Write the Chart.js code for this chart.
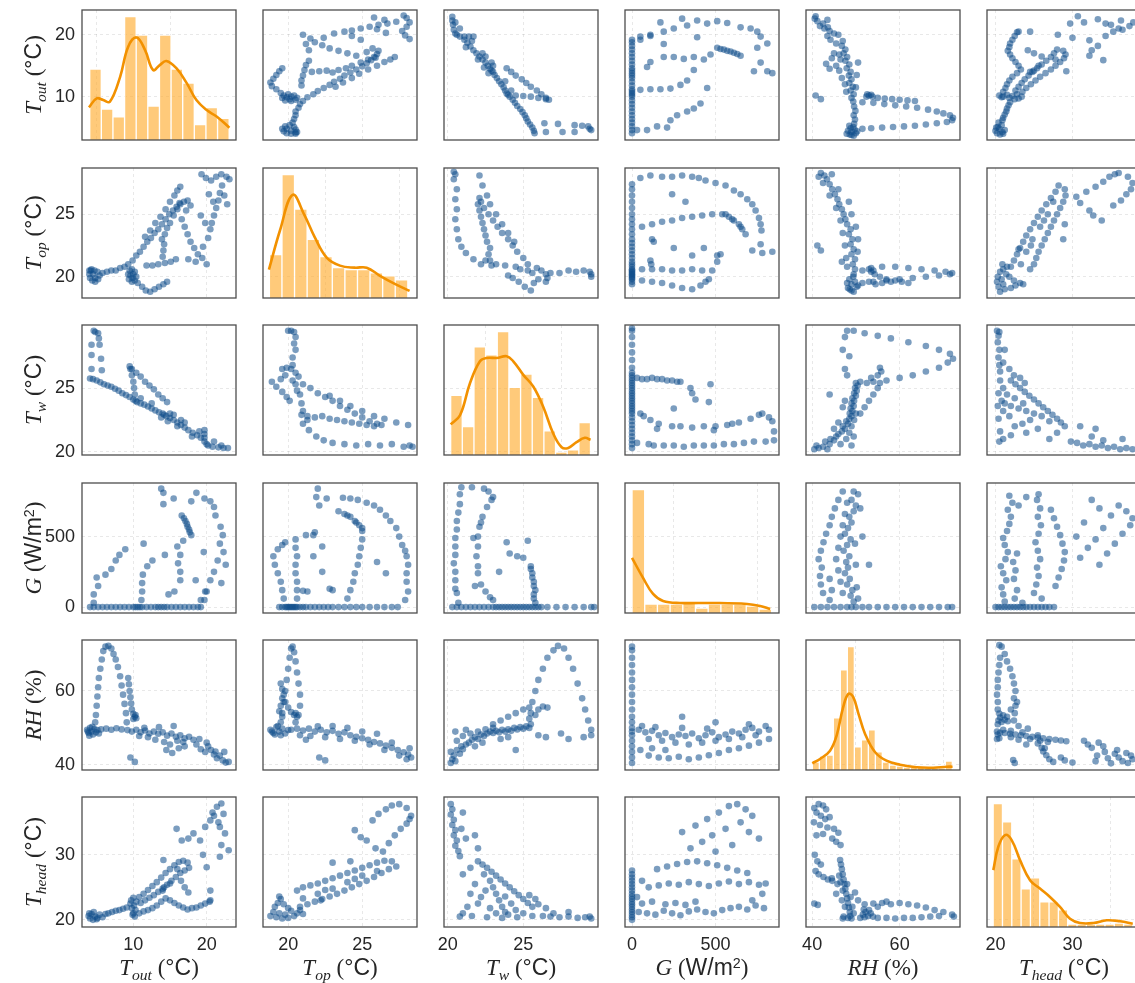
<!DOCTYPE html>
<html><head><meta charset="utf-8">
<script src="https://cdn.jsdelivr.net/npm/chart.js@4.4.1/dist/chart.umd.min.js"></script>
<style>
html,body{margin:0;padding:0;background:#fff;overflow:hidden;width:1135px;height:983px;}
#wrap{position:relative;width:1135px;height:983px;overflow:hidden;}
canvas{position:absolute;}
.lab{position:absolute;font-family:'Liberation Serif','DejaVu Serif',serif;font-size:23px;color:#262626;white-space:nowrap;line-height:1;}
.lab i{font-style:italic;}
.lab sub{font-size:0.68em;vertical-align:baseline;position:relative;top:0.32em;font-style:italic;}
.lab .s{font-family:'Liberation Sans','DejaVu Sans',sans-serif;font-style:normal;}
.lab sup{font-size:0.62em;vertical-align:baseline;position:relative;top:-0.5em;font-family:'Liberation Sans',sans-serif;}
.bot{transform:translate(-50%,-50%);}
.left{transform:translate(-50%,-50%) rotate(-90deg);}
</style></head>
<body><div id="wrap"></div>
<script>
// ---------------- variables / axes ----------------
const VAR_KEYS = ['Tout','Top','Tw','G','RH','Thead'];
const AXIS_MIN = [3.0, 18.3, 19.75, -42, 38.6, 18.9];
const AXIS_MAX = [24.0, 28.7, 29.95, 880, 73.8, 38.9];
const TICKS_Tout = [10, 20];
const TICKS_Top = [20, 25];
const TICKS_Tw = [20, 25];
const TICKS_G = [0, 500];
const TICKS_RH = [40, 60];
const TICKS_Thead = [20, 30];
const AXIS_TITLES = [
  '<i>T</i><sub>out</sub> (<span class="s">&#176;C</span>)',
  '<i>T</i><sub>op</sub> (<span class="s">&#176;C</span>)',
  '<i>T</i><sub>w</sub> (<span class="s">&#176;C</span>)',
  '<i>G</i> (<span class="s">W/m<sup>2</sup></span>)',
  '<i>RH</i> (%)',
  '<i>T</i><sub>head</sub> (<span class="s">&#176;C</span>)'
];

// ---------------- histograms (diagonal) ----------------
const hist_Tout_start = 4.05, hist_Tout_width = 1.585;
const hist_Tout_counts = [46,20,15,80,68,22,68,46,37,10,21,14];
const kde_Tout_x = [3.95,5.0,5.9,6.8,8.2,9.3,10.45,11.6,12.7,13.6,14.5,15.9,17.3,18.6,20.0,21.4,23.1];
const kde_Tout_y = [21.2,27.0,25.9,24.8,41.0,60.5,66.5,58.3,45.4,48.6,51.2,46.4,36.7,25.9,19.4,15.1,8.0];

const hist_Top_start = 18.73, hist_Top_width = 0.85;
const hist_Top_counts = [43,122,88,58,41,30,28,28,25,22,18];
const kde_Top_x = [18.7,19.45,20.3,21.1,21.8,22.6,23.5,24.5,25.3,26.2,27.2,28.2];
const kde_Top_y = [28,67,102,82,60,40,32,30,30,22,14,7];

const hist_Tw_start = 20.19, hist_Tw_width = 0.772;
const hist_Tw_counts = [59,28,107,99,122,67,80,57,24,3,5,32];
const kde_Tw_x = [20.19,20.81,21.47,22.13,22.58,23.24,23.9,24.34,25.0,25.66,26.32,26.99,27.54,27.98,28.53,29.08,29.46];
const kde_Tw_y = [30.3,39.3,71,92.7,96,96,97.7,92.7,79.3,67.7,47.7,21,7.7,7,12.7,17,15];

const hist_G_start = 0, hist_G_width = 76;
const hist_G_counts = [123,9,9,9,10,5,9,9,9,7,4];
const kde_G_x = [0,66,126,186,287,485,689,767,827];
const kde_G_y = [55,35,19,12,10,10,9,7,4];

const hist_RH_start = 40.05, hist_RH_width = 1.6;
const hist_RH_counts = [8,14,15,52,100,123,23,30,40,18,8,5,4,3,3,3,2,2,2,9];
const kde_RH_x = [40.04,41.8,44.1,45.6,47.1,48.3,49.4,50.6,52.1,54.4,57.0,60.1,63.9,67.7,70.8,72.1];
const kde_RH_y = [6.7,11,19.3,34.3,62.7,76,72.7,56,36,17.7,9.3,5.3,2.7,2.3,3.3,3.3];

const hist_Thead_start = 19.7, hist_Thead_width = 1.21;
const hist_Thead_counts = [123,105,68,38,49,25,25,17,3,3,3,3,3,4,3];
const kde_Thead_x = [19.72,20.37,21.24,22.1,23.19,24.49,25.78,27.08,28.38,29.68,30.98,32.7,34.45,36.18,37.83];
const kde_Thead_y = [56.7,80,91.7,86.7,66.7,46.7,38.3,30,20,8.3,4,4,6.7,5.7,3.3];

// ---------------- pairwise samples [first var, second var] ----------------
const pair_Tout_Top = [
[4.2,20.5],[4.0,20.2],[4.1,19.9],[4.4,19.7],[4.8,19.6],[5.2,19.8],[5.4,20.1],[5.1,20.4],[4.7,20.5],[4.5,20.2],[4.8,19.9],[4.3,20.6],[4.0,20.5],
[5.8,20.3],[6.4,20.4],[7.0,20.5],[7.6,20.5],[8.2,20.7],[8.8,20.8],[9.3,21.0],[9.9,21.3],[10.4,21.7],[10.9,22.0],[11.4,22.4],[11.9,22.8],[12.4,23.1],[12.9,23.5],[13.4,23.8],[13.9,24.2],[14.4,24.6],[14.9,25.0],[15.4,25.3],[15.9,25.6],[16.4,25.8],[16.9,26.0],[17.4,26.1],[17.8,25.7],[17.2,25.3],
[9.5,20.5],[9.3,20.2],[9.4,19.8],[9.8,19.6],[10.2,19.7],[10.4,20.0],[10.2,20.4],[9.8,20.6],[9.6,20.1],[10.0,20.2],[9.9,19.9],
[10.6,19.5],[11.2,19.2],[11.7,18.9],[12.3,18.8],[12.9,19.0],[13.5,19.2],[14.1,19.4],[14.6,19.6],
[11.8,20.9],[12.6,20.9],[13.4,21.0],[14.3,21.1],[15.1,21.2],[15.8,21.4],
[14.0,21.6],[14.1,22.1],[14.2,22.6],[13.9,23.0],[14.3,23.4],[14.6,23.9],[15.0,24.3],[15.5,24.9],[16.0,25.4],[16.3,25.9],
[11.6,23.2],[12.3,23.7],[13.0,24.3],[13.7,24.8],[14.4,25.4],[15.0,26.0],[15.6,26.5],[16.0,26.9],[16.4,27.2],
[16.6,24.6],[17.0,24.0],[17.4,23.4],[17.8,22.8],[18.3,22.3],[18.8,21.8],[19.4,21.5],[20.0,21.0],[17.5,21.4],[18.5,21.2],[19.5,22.4],[20.2,23.1],[20.5,23.8],[19.8,24.3],[19.2,24.9],
[19.3,28.2],[19.9,27.9],[20.6,27.7],[21.3,28.0],[22.0,28.2],[22.7,28.0],[23.1,27.8],[22.1,27.3],[21.8,26.7],[21.6,26.1],[21.3,25.5],[21.0,24.9],[20.7,24.3],[22.4,26.5],[22.8,25.8],[20.3,26.6],[20.9,26.0]
];
const pair_Tout_Tw = [
[22.9,20.3],[22.3,20.3],[21.6,20.35],[20.8,20.4],[20.2,20.5],[19.7,20.8],[19.2,21.1],[18.7,21.3],[18.1,21.5],[17.5,21.7],[17.0,21.9],[16.5,22.1],[16.0,22.3],[15.5,22.5],[15.0,22.65],[14.5,22.8],[14.2,22.9],[14.0,23.0],[13.5,23.1],[13.0,23.25],[12.5,23.4],[12.0,23.55],[11.5,23.7],[11.0,23.8],[10.5,23.9],[10.0,24.1],[9.5,24.3],[9.0,24.45],[8.5,24.6],[8.0,24.8],[7.5,24.95],[7.0,25.1],[6.5,25.2],[6.0,25.3],[5.5,25.45],[5.0,25.6],[4.5,25.7],[4.1,25.75],
[19.7,21.1],[19.7,21.4],[19.7,21.7],
[5.7,26.4],[5.6,27.3],[5.4,28.4],[5.3,28.9],[5.2,29.3],[4.6,29.5],[4.8,29.4],[4.3,26.5],[4.3,27.6],[4.3,28.4],
[10.3,24.0],[10.2,24.5],[10.1,25.0],[10.0,25.5],[9.8,26.0],[9.6,26.5],
[14.6,23.9],[14.0,24.2],[13.4,24.5],[12.8,24.9],[12.2,25.2],[11.6,25.5],[11.0,25.9],[10.4,26.2],[9.8,26.5],[9.5,26.7],
[21.0,20.8],[19.0,21.6],[17.0,22.3],[16.0,22.0],[15.0,23.0],[13.8,22.7],[12.5,23.8],[11.0,24.2],[14.7,22.4],[18.0,21.2],[20.0,20.6],[22.0,20.5],[16.5,22.5],[15.5,22.9]
];
const pair_Tout_G = [
[4.1,0],[4.6,0],[5.2,0],[5.8,0],[6.4,0],[7.0,0],[7.6,0],[8.2,0],[8.8,0],[9.4,0],[10.0,0],[10.3,0],[10.6,0],[10.9,0],[11.2,0],[11.8,0],[12.4,0],[13.0,0],[13.4,0],[13.8,0],[14.2,0],[14.6,0],[15.2,0],[15.8,0],[16.4,0],[17.0,0],[17.6,0],[18.2,0],[18.8,0],[19.2,0],
[19.7,50],[20.0,110],[20.5,190],[21.0,250],[21.5,330],[22.3,390],[21.8,450],[22.2,510],[21.9,570],[21.2,650],[21.0,710],[20.5,750],[19.7,770],[18.6,810],[17.9,750],[15.5,770],[14.1,730],[14.1,810],[13.8,840],
[11.1,50],[11.2,110],[11.2,170],[11.3,230],[11.9,290],[12.6,330],[14.3,370],[11.4,450],
[14.8,90],[15.6,110],[16.4,190],[16.4,250],[16.1,310],[16.4,370],[16.0,430],[16.8,470],
[17.9,510],[17.7,530],[17.6,550],[17.4,570],[17.3,590],[17.1,610],[16.9,630],[16.6,650],
[4.6,30],[4.6,90],[5.2,150],[5.0,210],[6.2,230],[7.0,270],[7.6,330],[8.1,370],[8.9,410],
[19.2,50],[19.8,110],[18.5,190],[19.6,390],[22.6,300],[22.0,170]
];
const pair_Tout_RH = [
[3.7,49.5],[3.9,48.6],[4.1,50.0],[4.3,49.0],[4.5,48.2],[4.7,49.7],[4.9,48.8],[5.1,49.4],[4.0,47.9],[4.4,50.3],[5.3,48.5],[3.8,49.0],
[4.8,51.5],[4.9,53.5],[5.0,56.0],[5.1,58.5],[5.2,61.0],[5.3,63.5],[5.5,66.0],[5.7,68.5],[5.9,70.8],[6.2,72.0],[6.6,72.2],[7.0,71.5],[7.3,70.0],[7.6,68.5],[7.9,66.5],[8.2,64.0],[8.4,61.5],[8.6,59.0],[8.8,56.5],[9.0,54.0],[9.1,51.5],
[9.3,63.5],[9.4,61.8],[9.5,60.0],[9.6,58.3],[9.7,56.6],[9.8,55.0],[10.0,53.8],[10.2,53.0],[10.4,52.6],[10.0,52.4],[10.3,53.5],
[5.6,49.6],[6.3,49.8],[7.0,49.5],[7.7,49.9],[8.4,49.6],[9.2,49.4],[9.8,49.0],[10.4,49.5],[11.0,48.8],[11.6,49.3],[12.2,48.5],[12.8,49.0],[13.4,48.4],[14.0,48.8],[14.6,47.9],[15.2,48.5],[15.8,47.6],[16.4,48.0],[17.0,47.2],[17.6,47.6],[18.2,46.8],[12.0,47.5],[13.0,46.8],[14.2,46.2],[15.0,45.5],[16.0,46.5],[17.0,45.0],[11.5,50.0],[13.5,50.2],[15.5,50.5],[10.8,47.8],[16.8,46.2],
[18.6,45.5],[19.2,44.2],[19.8,43.5],[20.2,45.0],[20.6,44.0],[21.0,42.8],[21.4,41.8],[21.8,42.5],[22.2,41.2],[22.6,40.6],[23.0,40.8],[20.0,46.0],[21.2,43.6],[19.0,47.0],[22.4,43.5],
[9.6,42.0],[10.2,40.8],[14.5,44.0],[15.3,43.2],[16.2,44.5]
];
const pair_Tout_Thead = [
[3.9,20.6],[4.1,20.2],[4.3,20.9],[4.5,20.0],[4.8,20.5],[5.1,20.3],[5.4,20.8],[5.8,20.4],[6.2,20.9],[4.0,21.0],[4.6,21.2],[5.0,20.1],
[6.6,21.0],[7.1,21.2],[7.6,21.4],[8.1,21.5],[8.6,21.7],[9.1,21.9],
[9.6,22.5],[9.8,21.8],[10.0,21.0],[10.2,20.5],[9.7,23.0],[10.1,22.2],[10.3,21.5],[9.9,20.8],[10.4,22.8],[10.0,23.4],
[10.8,23.5],[11.4,24.0],[12.0,24.6],[12.6,25.2],[13.2,25.8],[13.8,26.5],[14.4,27.2],[15.0,27.8],[15.6,28.4],[16.2,28.9],[16.8,29.1],[17.4,28.8],
[11.0,22.6],[11.6,23.0],[12.2,23.4],[12.8,23.8],[13.4,24.3],[14.0,24.8],[14.6,25.4],[15.2,26.0],[15.8,26.6],[16.4,27.2],[17.0,27.6],[17.6,28.0],
[14.2,25.0],[14.0,24.5],[15.0,25.6],[16.0,27.8],[16.5,26.0],[17.0,25.0],[17.5,24.2],[14.1,29.2],
[10.8,21.0],[11.4,21.3],[12.0,21.5],[12.6,21.8],[13.2,22.2],[13.8,22.8],[14.4,23.3],[15.0,23.0],[15.6,22.6],[16.2,22.2],[16.8,21.9],[17.4,21.6],[18.0,21.8],[18.6,21.9],[19.2,22.2],[19.8,22.5],[20.4,22.8],
[15.9,34.0],[16.6,32.2],[18.2,33.3],[19.1,32.2],[19.8,34.3],[20.5,35.3],[21.0,36.0],[21.4,37.4],[22.0,37.9],[22.3,36.3],[21.8,34.3],[22.5,33.3],[23.0,30.7],[21.8,29.7],[20.0,28.1],[20.5,24.5],[20.5,23.0],[20.8,36.5],[21.6,35.0],[19.5,30.0],[22.0,31.5],[17.5,32.5]
];
const pair_Top_Tw = [
[20.0,29.5],[20.2,29.5],[20.4,29.4],[20.5,29.0],[20.4,28.5],[20.5,28.0],[20.3,27.4],[20.3,26.8],
[19.6,26.5],[19.9,26.6],[20.2,26.5],[20.5,26.2],[20.7,25.9],[19.8,26.0],[19.5,25.7],[18.9,25.5],[19.2,25.1],[19.6,24.7],[19.9,24.3],[20.1,24.0],[20.3,25.6],[20.5,25.3],[20.6,24.8],
[21.0,25.3],[21.5,25.0],[22.0,24.6],[22.5,24.3],[23.0,24.0],[23.5,23.6],[24.0,23.3],[24.5,23.0],[25.0,22.7],[25.5,22.4],[26.0,22.2],
[20.9,22.9],[21.3,22.8],[21.8,22.7],[22.3,22.8],[22.8,22.6],[23.3,22.5],[23.8,22.4],[24.3,22.3],[24.8,22.2],[25.3,22.1],[25.8,22.0],[26.3,22.1],
[21.0,22.2],[21.4,21.7],[21.9,21.2],[22.4,20.9],[23.0,20.7],[23.8,20.6],[24.6,20.5],[25.4,20.6],[26.2,20.5],[27.0,20.6],[27.8,20.4],[28.2,20.5],[28.4,20.4],
[22.8,24.4],[23.5,24.0],[24.2,23.6],[25.0,23.2],[25.8,22.8],[26.5,22.6],[27.3,22.3],[28.1,22.1],
[20.8,24.5],[20.9,23.8],[21.0,23.2],[21.3,22.5]
];
const pair_Top_G = [
[19.4,0],[19.6,0],[19.8,0],[20.0,0],[20.2,0],[20.4,0],[20.6,0],[20.8,0],[21.0,0],[21.2,0],[21.5,0],[21.8,0],[22.1,0],[22.4,0],[22.7,0],[23.0,0],[23.4,0],[23.8,0],[24.2,0],[24.6,0],[25.0,0],[25.5,0],[26.0,0],[26.5,0],[27.0,0],[27.4,0],[20.1,0],[20.3,0],[19.9,0],[20.5,0],
[27.9,50],[28.1,110],[28.0,180],[28.0,240],[28.1,300],[28.0,360],[27.9,400],[27.7,440],[27.5,500],[27.3,560],[26.9,610],[26.6,650],[26.2,690],[25.8,720],[25.3,740],[24.7,760],[24.2,770],[23.7,775],
[24.0,60],[24.2,120],[24.4,180],[24.5,240],[24.7,300],[24.8,360],[24.9,420],[25.0,480],[25.0,540],[24.8,580],[24.5,610],[24.2,640],[23.8,660],[23.4,680],[25.0,560],[24.6,600],[24.0,650],
[20.6,60],[20.6,120],[20.6,180],[20.5,240],[20.5,300],[20.6,360],[20.5,420],[20.5,480],
[19.7,60],[19.6,120],[19.5,180],[19.3,240],[19.1,300],[19.0,360],[19.3,410],[19.6,440],[19.8,460],
[22.3,250],[22.3,430],[21.3,110],[21.0,115],[21.7,360],[21.7,510],[21.8,530],[22.1,720],[21.9,780],[22.0,840],[22.6,770],[26.6,240],[26.0,320],[21.2,510],[23.0,120],[22.8,130]
];
const pair_Top_RH = [
[18.8,49.5],[19.0,48.6],[19.2,50.2],[19.4,49.0],[19.1,48.2],[19.6,49.8],[19.3,50.5],[18.9,49.0],[19.8,48.5],[20.0,49.4],[19.5,48.0],
[19.5,51.5],[19.6,54.0],[19.7,57.0],[19.8,60.0],[19.9,63.0],[20.0,66.0],[20.1,69.0],[20.2,71.5],[20.3,72.0],[20.4,70.5],[20.5,68.0],[20.6,65.0],[20.7,62.0],[20.8,59.0],[20.8,56.0],[20.7,53.5],[20.5,51.5],
[19.5,62.0],[19.6,60.5],[19.7,59.0],[19.8,57.0],[20.0,55.5],[20.2,54.3],[20.4,53.5],[20.6,53.0],[20.5,54.0],[19.6,58.0],[19.5,56.0],[19.4,54.5],[19.6,53.0],
[20.2,49.5],[20.6,49.8],[21.0,49.3],[21.4,49.8],[21.8,49.0],[22.2,49.5],[22.6,48.8],[23.0,49.2],[23.4,48.4],[23.8,48.8],[24.2,48.0],[24.6,47.6],[25.0,47.2],[25.4,46.8],[25.8,46.2],[26.2,45.8],[26.6,45.2],[27.0,44.6],[27.4,44.0],[27.8,43.4],[28.1,42.8],[28.3,42.0],[21.5,47.8],[22.5,47.5],[23.5,47.0],[24.5,46.5],[25.5,45.5],[26.5,44.0],[27.5,42.5],[28.0,41.5],[22.0,50.4],[23.0,50.5],[24.0,50.0],[25.0,49.0],[26.0,48.4],[20.8,48.0],[21.2,46.8],[27.0,46.0],[28.2,44.5],
[22.5,41.2],[22.1,42.0]
];
const pair_Top_Thead = [
[18.8,20.6],[19.0,21.2],[19.2,20.4],[19.4,21.0],[19.6,20.2],[19.8,20.8],[20.0,20.3],[20.2,21.4],[20.4,20.6],[20.6,21.0],[19.1,22.0],[19.3,22.6],[19.5,23.2],[19.4,23.6],[19.7,22.4],[20.0,21.8],[20.8,21.5],[21.0,20.9],
[20.6,24.5],[21.0,25.0],[21.5,25.3],[22.0,25.6],[22.5,26.0],[23.0,26.4],[23.5,26.8],[24.0,27.2],[24.5,27.6],[25.0,28.0],[25.5,28.4],[26.0,28.8],[26.5,29.1],[27.0,29.0],
[20.8,22.0],[21.3,22.4],[21.8,22.8],[22.3,23.2],[22.8,23.6],[23.3,24.0],[23.8,24.5],[24.3,25.0],[24.8,25.5],[25.3,26.0],[25.8,26.6],[26.3,27.2],[26.8,27.8],[27.3,28.2],
[21.0,23.3],[22.0,24.0],[23.0,24.8],[24.0,25.8],[25.0,26.8],[26.0,27.5],[22.5,24.6],[24.5,26.3],
[24.5,33.8],[24.9,32.7],[25.3,32.2],[25.7,35.3],[26.1,36.3],[26.6,37.0],[27.0,37.6],[27.5,37.8],[28.0,37.2],[28.3,36.0],[28.0,34.8],[27.6,34.0],[27.2,33.0],[26.8,31.8],[26.4,30.5],[28.2,35.5],[25.9,31.0],[24.2,29.0],[23.0,28.8],[22.2,23.0]
];
const pair_Tw_G = [
[20.3,0],[20.6,0],[20.9,0],[21.2,0],[21.5,0],[21.8,0],[22.1,0],[22.4,0],[22.7,0],[23.0,0],[23.2,0],[23.4,0],[23.6,0],[23.8,0],[24.0,0],[24.2,0],[24.4,0],[24.6,0],[24.8,0],[25.0,0],[25.2,0],[25.4,0],[25.6,0],[25.8,0],[26.0,0],[26.2,0],[26.6,0],[27.2,0],[27.8,0],[28.4,0],[29.0,0],[29.5,0],[29.7,0],
[25.8,30],[25.7,60],[25.7,90],[25.8,120],[25.7,150],[25.7,180],[25.6,210],[25.6,240],[25.5,270],[25.5,290],[25.0,350],[24.1,380],[24.6,360],[23.9,460],[25.3,470],
[23.4,250],
[23.0,50],[22.8,70],[22.5,110],[22.2,160],[22.0,240],[22.0,290],[21.9,360],[22.0,430],[22.0,500],[22.1,570],[22.3,640],[22.6,710],[23.0,780],[22.7,820],[22.4,840],[21.6,850],[22.9,760],[22.2,600],
[20.5,130],[20.5,190],[20.5,250],[20.4,310],[20.5,370],[20.5,430],[20.5,490],[20.6,550],[20.6,610],[20.7,670],[20.8,730],[20.8,800],[20.9,850],
[20.7,30],[20.6,100],[21.8,150],[21.7,490]
];
const pair_Tw_RH = [
[20.2,40.5],[20.3,41.5],[20.4,42.5],[20.2,43.5],[20.5,41.0],[20.6,44.0],[20.8,43.0],[20.9,45.0],[21.0,44.2],[21.2,45.5],[21.4,46.0],[21.6,46.8],[21.8,47.5],[22.0,47.0],[22.2,48.2],[22.4,47.8],[22.6,48.5],[22.8,49.0],[23.0,48.6],[23.2,49.2],[23.4,48.8],[23.6,49.5],[23.8,49.0],[24.0,49.6],[24.2,49.2],[24.4,50.0],[24.6,49.6],[24.8,50.2],[25.0,49.8],[25.2,50.4],[21.0,47.8],[21.5,48.5],[22.0,49.0],[22.5,49.6],[23.0,50.0],[23.5,47.0],[24.0,47.5],[22.3,46.0],[21.8,45.0],[20.6,46.5],
[23.0,51.0],[23.5,52.0],[24.0,53.0],[24.5,54.0],[25.0,55.0],[25.4,55.5],[25.5,54.0],[25.4,52.5],[25.5,51.0],[25.4,50.0],[25.8,53.5],[26.0,55.0],[26.3,55.8],[26.6,55.5],
[25.6,57.0],[25.8,60.0],[26.0,63.0],[26.3,66.0],[26.6,69.0],[27.0,71.0],[27.3,72.2],[27.7,71.5],[28.0,69.0],[28.3,66.0],[28.6,62.0],[28.9,58.0],[29.1,55.0],[29.3,52.0],[29.5,49.5],[29.5,48.0],
[26.0,48.0],[26.5,47.5],[27.5,48.5],[28.0,47.0],[29.0,47.5],[20.5,49.0],[21.2,49.5],[24.5,44.0]
];
const pair_Tw_Thead = [
[20.2,37.8],[20.3,37.0],[20.2,36.2],[20.4,35.4],[20.3,34.6],[20.5,33.8],[20.4,33.0],[20.6,32.2],[20.5,31.4],[20.7,30.6],[20.8,29.8],[21.0,36.5],[20.9,34.0],[21.2,32.5],
[22.0,29.0],[22.3,28.5],[22.6,28.0],[22.9,27.4],[23.2,26.8],[23.5,26.2],[23.8,25.6],[24.1,25.0],[24.4,24.4],[24.7,23.8],[25.0,23.2],[25.3,22.6],[25.6,22.0],[22.4,27.0],[22.8,26.0],[23.0,25.0],[23.2,24.0],[23.4,23.0],[23.6,22.0],[23.8,21.2],[22.5,24.5],[22.2,23.5],[22.0,22.5],[22.8,21.8],[23.2,21.0],[24.0,20.8],[24.5,21.5],[25.0,21.0],[21.8,25.5],[21.5,24.0],[21.3,22.0],[21.0,21.0],[20.8,20.5],[21.6,20.6],[22.6,20.4],[23.6,20.3],[24.6,20.4],[25.6,20.6],[24.2,22.5],[23.8,23.6],[25.4,23.8],[25.8,23.2],[26.0,22.4],
[26.3,20.6],[26.8,20.5],[27.4,20.4],[28.0,20.5],[28.6,20.3],[29.1,20.4],[29.4,20.5],[29.5,20.2],[27.0,21.0],[28.0,21.2],[26.5,21.8],
[21.5,28.0],[21.0,27.0],[22.0,31.0],[21.8,33.0]
];
const pair_G_RH = [
[0,40.5],[0,42],[0,43.5],[0,45],[0,46.5],[0,48],[0,49],[0,50],[0,51.5],[0,53],[0,55],[0,57],[0,59],[0,61],[0,63],[0,65],[0,67],[0,69],[0,71],[0,72],
[40,49.5],[80,48.8],[120,49.2],[160,48.0],[200,48.6],[240,47.5],[280,48.2],[320,47.8],[360,48.5],[400,47.2],[440,48.0],[480,48.8],[520,47.5],[560,48.2],[600,49.0],[640,48.5],[680,49.5],[720,50.0],[760,49.0],[800,50.5],[100,47.0],[180,46.5],[260,46.0],[340,45.5],[420,46.0],[500,46.5],[580,47.0],[660,47.5],[740,48.0],[60,50.5],[140,50.2],[300,50.0],[450,49.8],
[100,42.5],[160,42.0],[220,41.8],[280,42.2],[340,41.5],[400,42.0],[460,42.6],[520,43.2],[580,44.0],[640,44.5],[700,45.2],[760,46.0],[820,47.0],[50,44.0],[120,44.5],[200,44.0],
[300,53.0],[500,51.5],[700,51.0],[820,49.5]
];
const pair_G_Thead = [
[0,20.0],[0,20.4],[0,20.8],[0,21.2],[0,21.6],[0,22.0],[0,22.4],[0,22.8],[0,23.2],[0,23.6],[0,24.0],[0,24.5],[0,25.0],[0,25.5],[0,26.0],[0,26.5],[0,27.0],[0,27.6],
[40,21.2],[90,21.0],[140,20.8],[190,21.4],[240,21.0],[290,20.7],[340,21.3],[390,21.6],[440,21.2],[490,21.0],[540,21.5],[590,21.8],[640,22.0],[690,21.6],[740,22.2],[790,21.8],
[60,22.5],[120,22.8],[200,22.4],[260,22.6],[320,22.3],[380,22.8],
[100,25.0],[160,25.3],[220,25.6],[280,25.4],[340,25.8],[400,25.5],[460,25.2],[520,25.6],[580,25.9],[640,25.5],[700,25.8],[760,25.4],[800,25.6],
[150,27.8],[210,28.2],[270,28.6],[330,28.9],[390,29.0],[450,28.7],[510,28.4],[570,28.0],[630,27.6],[690,27.2],
[300,33.5],[380,34.5],[450,35.5],[520,36.5],[580,37.5],[630,37.8],[680,37.0],[720,36.0],[650,35.0],[560,34.0],[480,33.0],[420,32.0],[350,31.0],[700,33.5],[760,32.5],[600,31.5],[500,30.5],
[60,26.0],[30,23.5],[780,24.0],[720,23.0]
];
const pair_RH_Thead = [
[40.5,37.2],[41.5,37.8],[42.5,37.6],[43.2,37.0],[41.0,36.5],[42.0,36.0],[43.0,35.5],[44.0,35.8],[40.4,35.0],[41.8,34.6],[43.5,34.2],[45.0,34.0],[46.0,33.4],[41.0,33.0],[42.5,33.2],[44.6,32.5],[45.5,32.0],[46.5,31.5],
[40.6,30.0],[41.2,29.0],[42.0,28.5],[40.8,27.5],[41.5,27.0],[42.6,26.6],[43.6,26.2],[44.6,26.0],[40.5,22.5],[41.3,22.3],
[46.4,29.2],[46.6,28.5],[46.8,27.8],[47.0,27.0],[47.2,26.2],[47.4,25.5],[47.6,24.8],[47.8,24.0],[48.0,23.3],[48.2,22.6],[48.4,21.9],[48.6,21.2],[48.7,20.6],[47.0,24.5],[46.5,25.8],[46.2,26.8],[48.0,25.5],[48.8,23.5],[49.2,22.0],[49.5,21.0],[47.5,22.0],[46.8,23.0],[45.5,24.0],[44.5,26.4],[45.8,25.5],[49.8,24.2],[50.5,23.0],[47.2,20.5],[48.2,20.3],
[51.6,20.8],[52.2,21.2],[52.8,20.6],[53.4,21.0],[53.9,20.5],[52.0,20.4],[53.0,21.5],[51.8,21.6],
[52.0,22.4],[54.0,22.5],[56.0,22.6],[58.0,22.4],[60.0,22.6],[62.0,22.4],[64.0,22.2],[66.0,21.9],[68.0,21.5],[70.0,21.2],[72.0,20.8],[72.4,20.5],[55.0,22.0],[57.0,22.8],
[47.0,20.2],[49.0,20.2],[51.0,20.3],[55.0,20.3],[57.0,20.3],[59.0,20.2],[61.0,20.3],[63.0,20.3],[65.0,20.4],[67.0,20.5],[69.0,20.6]
];

// ---------------- lookup tables built from the arrays ----------------
const TICKS = [TICKS_Tout, TICKS_Top, TICKS_Tw, TICKS_G, TICKS_RH, TICKS_Thead];
const PAIRS = {
  '0_1': pair_Tout_Top, '0_2': pair_Tout_Tw, '0_3': pair_Tout_G, '0_4': pair_Tout_RH, '0_5': pair_Tout_Thead,
  '1_2': pair_Top_Tw, '1_3': pair_Top_G, '1_4': pair_Top_RH, '1_5': pair_Top_Thead,
  '2_3': pair_Tw_G, '2_4': pair_Tw_RH, '2_5': pair_Tw_Thead,
  '3_4': pair_G_RH, '3_5': pair_G_Thead, '4_5': pair_RH_Thead
};
const HISTS = [
  {start: hist_Tout_start, width: hist_Tout_width, counts: hist_Tout_counts, kx: kde_Tout_x, ky: kde_Tout_y},
  {start: hist_Top_start, width: hist_Top_width, counts: hist_Top_counts, kx: kde_Top_x, ky: kde_Top_y},
  {start: hist_Tw_start, width: hist_Tw_width, counts: hist_Tw_counts, kx: kde_Tw_x, ky: kde_Tw_y},
  {start: hist_G_start, width: hist_G_width, counts: hist_G_counts, kx: kde_G_x, ky: kde_G_y},
  {start: hist_RH_start, width: hist_RH_width, counts: hist_RH_counts, kx: kde_RH_x, ky: kde_RH_y},
  {start: hist_Thead_start, width: hist_Thead_width, counts: hist_Thead_counts, kx: kde_Thead_x, ky: kde_Thead_y}
];

// ---------------- layout ----------------
const COL_LEFT = [82, 263, 444, 625, 806, 987];
const ROW_TOP = [10, 168, 325, 483, 640, 797];
const PW = 154, PH = 130, PADL = 62, PADB = 34;
const wrap = document.getElementById('wrap');

const framePlugin = {
  id: 'frame',
  afterDatasetsDraw(chart) {
    const a = chart.chartArea, ctx = chart.ctx;
    ctx.save();
    ctx.strokeStyle = '#4d4d4d';
    ctx.lineWidth = 1.3;
    ctx.strokeRect(a.left, a.top, a.right - a.left, a.bottom - a.top);
    ctx.restore();
  }
};

function fixSize(s, axis) {
  if (axis === 'x') s.height = PADB; else s.width = PADL;
  s.paddingTop = 0; s.paddingBottom = 0; s.paddingLeft = 0; s.paddingRight = 0;
}

function valueAxis(v, axis, showTicks) {
  return {
    type: 'linear',
    position: axis === 'x' ? 'bottom' : 'left',
    min: AXIS_MIN[v], max: AXIS_MAX[v],
    offset: false,
    afterBuildTicks: s => { s.ticks = TICKS[v].map(t => ({value: t})); },
    afterFit: s => fixSize(s, axis),
    grid: { color: 'rgba(0,0,0,0.09)', lineWidth: 1, drawTicks: false },
    border: { display: false, dash: [3, 3] },
    ticks: {
      display: showTicks,
      padding: axis === 'x' ? 7 : 7,
      color: '#262626',
      font: { family: "'Liberation Sans', Arial, sans-serif", size: 18 },
      callback: val => String(val)
    }
  };
}

function makeChart(r, c) {
  const cv = document.createElement('canvas');
  const W = PADL + PW + 1, H = PH + PADB + 1;
  cv.width = W; cv.height = H;
  cv.style.left = (COL_LEFT[c] - PADL) + 'px';
  cv.style.top = (ROW_TOP[r] - 1) + 'px';
  cv.style.width = W + 'px'; cv.style.height = H + 'px';
  wrap.appendChild(cv);
  const showX = (r === 5), showY = (c === 0);
  const scales = { x: valueAxis(c, 'x', showX), y: valueAxis(r, 'y', showY) };
  let datasets, type;
  if (r === c) {
    const h = HISTS[r];
    const maxC = Math.max(...h.counts);
    scales.yh = { type: 'linear', display: false, position: 'right', min: 0, max: maxC * 1.054 };
    type = 'bar';
    datasets = [
      { type: 'bar', xAxisID: 'x', yAxisID: 'yh',
        data: h.counts.map((n, k) => ({x: h.start + (k + 0.5) * h.width, y: n})),
        backgroundColor: 'rgba(255,170,40,0.62)', borderColor: 'rgba(255,255,255,0.95)', borderWidth: 1,
        barPercentage: 1, categoryPercentage: 1, grouped: false, order: 2 },
      { type: 'line', xAxisID: 'x', yAxisID: 'yh',
        data: h.kx.map((x, k) => ({x: x, y: h.ky[k]})),
        borderColor: '#f29100', borderWidth: 2.6, pointRadius: 0, tension: 0.4, fill: false, order: 1 }
    ];
  } else {
    type = 'scatter';
    let pts;
    if (r > c) pts = PAIRS[c + '_' + r].map(p => ({x: p[0], y: p[1]}));
    else pts = PAIRS[r + '_' + c].map(p => ({x: p[1], y: p[0]}));
    datasets = [{ data: pts, backgroundColor: 'rgba(14,76,138,0.55)', borderWidth: 0, pointRadius: 3.3 }];
  }
  new Chart(cv, {
    type: type,
    data: { datasets: datasets },
    options: {
      responsive: false, animation: false, devicePixelRatio: 1,
      layout: { autoPadding: false, padding: { top: 1, right: 1, left: 0, bottom: 0 } },
      plugins: { legend: { display: false }, tooltip: { enabled: false } },
      scales: scales,
      events: []
    },
    plugins: [framePlugin]
  });
}

for (let r = 0; r < 6; r++) for (let c = 0; c < 6; c++) makeChart(r, c);

// axis titles
for (let i = 0; i < 6; i++) {
  const b = document.createElement('div');
  b.className = 'lab bot';
  b.innerHTML = AXIS_TITLES[i];
  b.style.left = (COL_LEFT[i] + PW / 2) + 'px';
  b.style.top = '967px';
  wrap.appendChild(b);
  const l = document.createElement('div');
  l.className = 'lab left';
  l.innerHTML = AXIS_TITLES[i];
  l.style.left = '33px';
  l.style.top = (ROW_TOP[i] + PH / 2) + 'px';
  wrap.appendChild(l);
}
</script>
</body></html>
